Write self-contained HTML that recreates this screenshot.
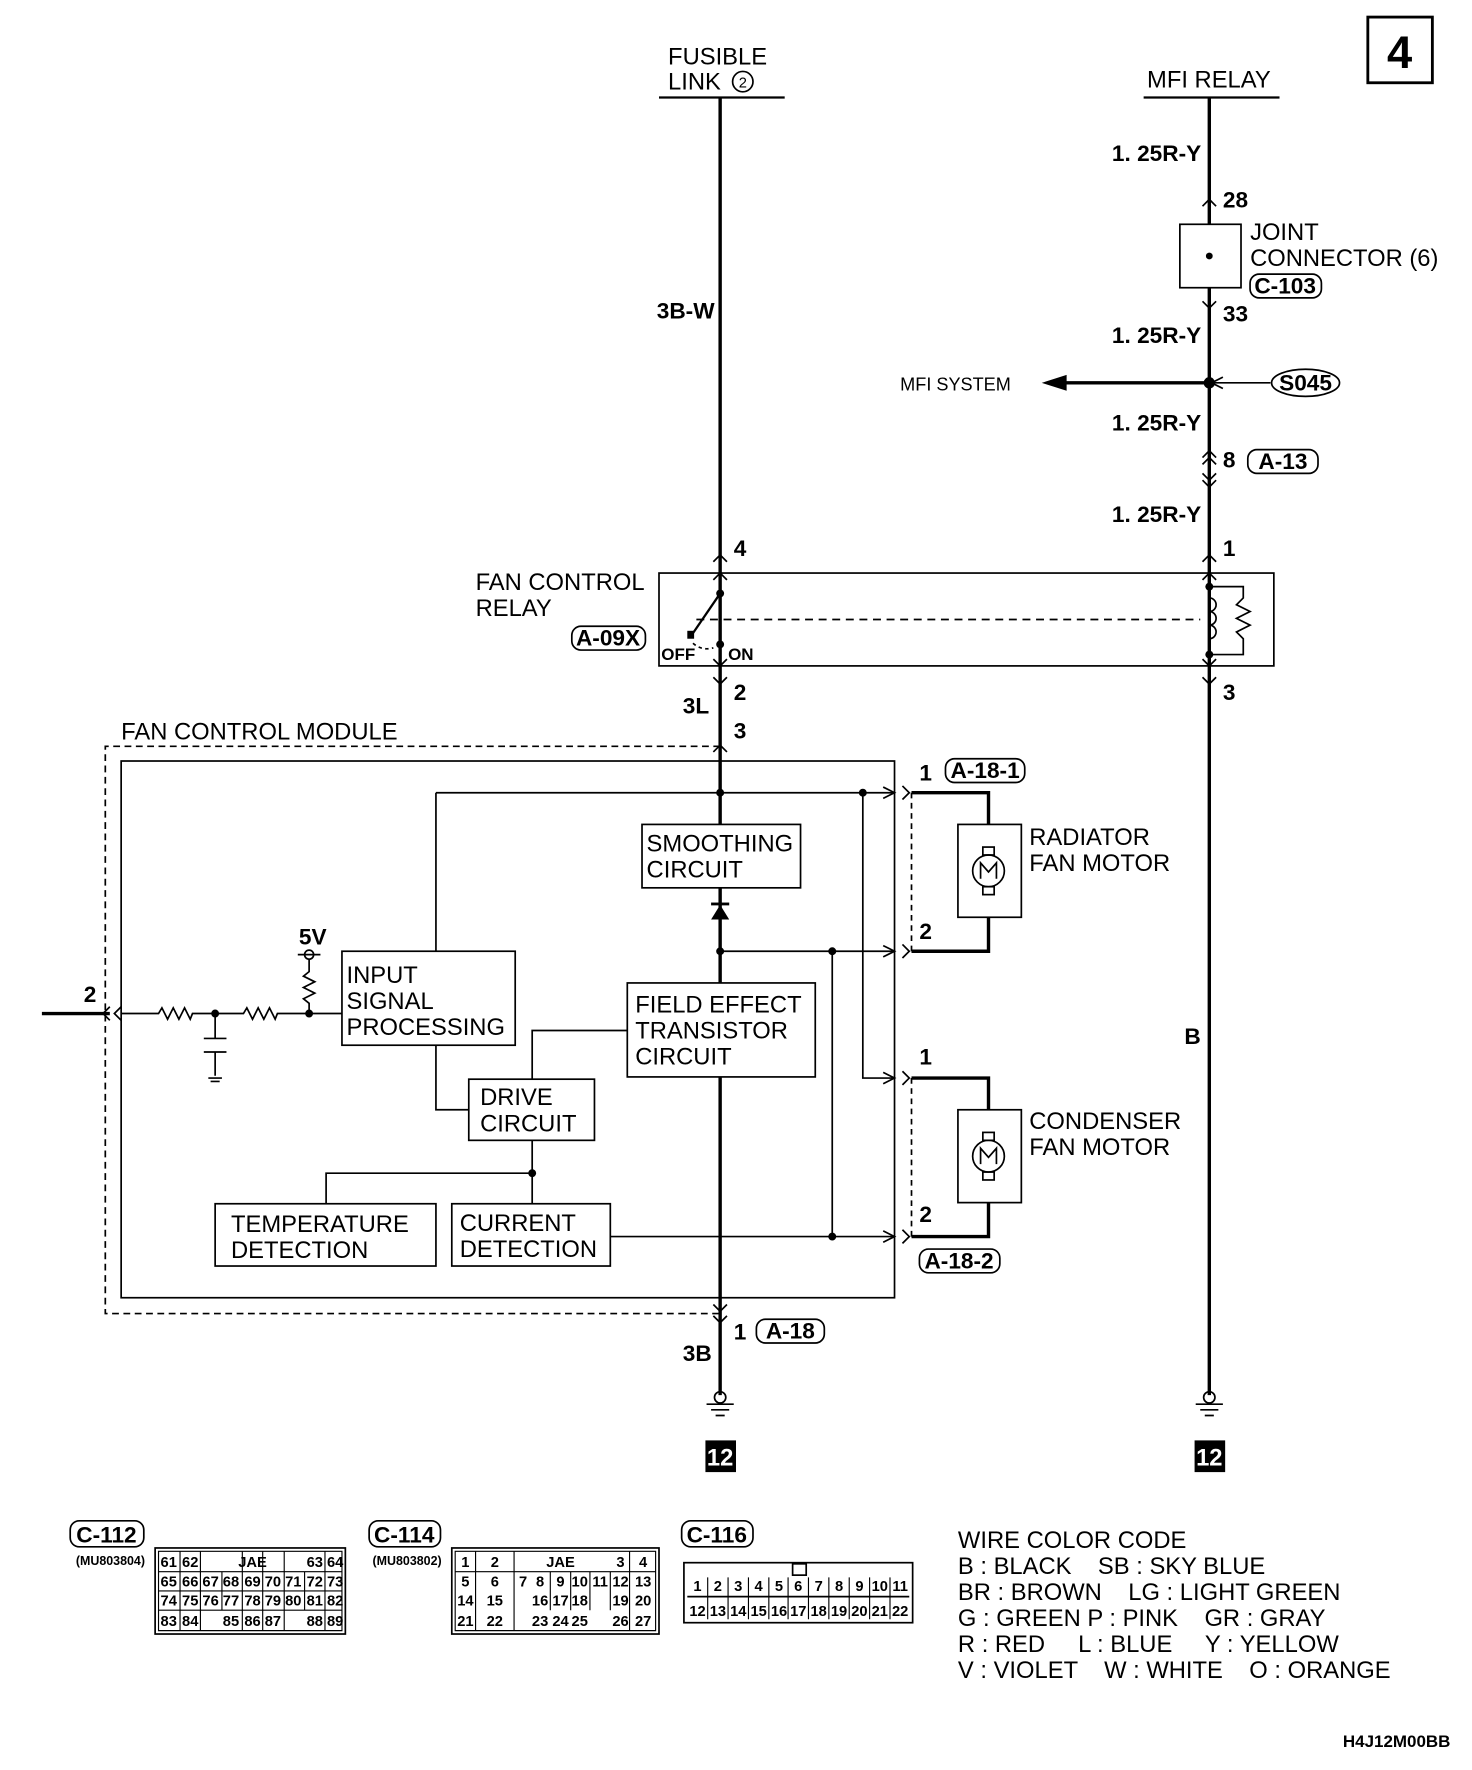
<!DOCTYPE html>
<html><head><meta charset="utf-8"><style>
html,body{margin:0;padding:0;background:#fff;}
svg{display:block;}
text{font-family:"Liberation Sans",sans-serif;fill:#000;white-space:pre;}
.n{font-weight:bold;font-size:20px;}
.t{font-size:21px;}
.s{font-size:11px;font-weight:bold;}
.g text{font-size:13px;font-weight:bold;text-anchor:middle;}
</style></head><body>
<svg width="1472" height="1770" viewBox="0 0 1300 1563" xmlns="http://www.w3.org/2000/svg">
<g fill="none" stroke="#000" stroke-width="1.5">
<rect x="1208" y="15" width="57" height="58" stroke-width="2.5"/>
<line x1="582" y1="86" x2="693" y2="86" stroke-width="2"/>
<line x1="1010" y1="86" x2="1130" y2="86" stroke-width="2"/>
<line x1="636" y1="86" x2="636" y2="1232" stroke-width="3"/>
<line x1="1068" y1="86" x2="1068" y2="1232" stroke-width="3"/>
<circle cx="656" cy="72" r="9"/>
<rect x="1042" y="198" width="54" height="56" fill="#fff"/>
<rect x="1104" y="242" width="63" height="21" rx="8"/>
<path d="M1062,182 L1068,176 L1074,182 M1062,266 L1068,272 L1074,266"/>
<path d="M1062,404 L1068,398 L1074,404 M1062,410 L1068,404 L1074,410 M1062,418 L1068,424 L1074,418 M1062,424 L1068,430 L1074,424"/>
<rect x="1102" y="397" width="62" height="21" rx="8"/>
<line x1="935" y1="338" x2="1068" y2="338" stroke-width="3"/>
<ellipse cx="1153" cy="338" rx="30" ry="12"/>
<line x1="1068" y1="338" x2="1122" y2="338"/>
<path d="M1080,333 L1070,338 L1080,343"/>
<rect x="582" y="506" width="543" height="82"/>
<path d="M630,496 L636,490 L642,496 M1062,496 L1068,490 L1074,496"/>
<path d="M630,512 L636,506 L642,512 M1062,512 L1068,506 L1074,512"/>
<path d="M630,582 L636,588 L642,582 M1062,582 L1068,588 L1074,582"/>
<path d="M630,598 L636,604 L642,598 M1062,598 L1068,604 L1074,598"/>
<rect x="505" y="553" width="65" height="21" rx="8"/>
<line x1="636" y1="524" x2="610" y2="562" stroke-width="2"/>
<line x1="615" y1="547" x2="1060" y2="547" stroke-dasharray="7,5"/>
<path d="M612,568 Q620,575 630,572" stroke-dasharray="3,3"/>
<path d="M1068,518 L1098,518 L1098,528 L1092,534 L1104,540 L1092,546 L1104,552 L1092,558 L1098,564 L1098,578 L1068,578"/>
<path d="M1068,528 a6,6 0 0 1 0,12 a6,6 0 0 1 0,12 a6,6 0 0 1 0,12" stroke-width="1.5"/>
<path d="M636,659 L93,659 L93,1160 L636,1160" stroke-dasharray="6,4"/>
<rect x="107" y="672" width="683" height="474"/>
<path d="M630,664 L636,658 L642,664 M630,1152 L636,1158 L642,1152"/>
<path d="M630,1162 L636,1168 L642,1162"/>
<line x1="385" y1="700" x2="790" y2="700"/>
<line x1="385" y1="700" x2="385" y2="840"/>
<rect x="567" y="728" width="140" height="56" fill="#fff"/>
<line x1="636" y1="840" x2="790" y2="840"/>
<rect x="554" y="868" width="166" height="83" fill="#fff"/>
<rect x="302" y="840" width="153" height="83" fill="#fff"/>
<rect x="414" y="953" width="111" height="54" fill="#fff"/>
<path d="M385,923 L385,980 L414,980"/>
<path d="M554,910 L470,910 L470,953"/>
<path d="M470,1007 L470,1063 M470,1036 L288,1036 L288,1063"/>
<rect x="190" y="1063" width="195" height="55" fill="#fff"/>
<rect x="399" y="1063" width="140" height="55" fill="#fff"/>
<line x1="539" y1="1092" x2="790" y2="1092"/>
<line x1="735" y1="840" x2="735" y2="1092"/>
<path d="M762,700 L762,952 L790,952"/>
<path d="M780,695 L790,700 L780,705 M780,835 L790,840 L780,845 M780,947 L790,952 L780,957 M780,1087 L790,1092 L780,1097"/>
<path d="M797,694 L803,700 L797,706 M797,834 L803,840 L797,846 M797,946 L803,952 L797,958 M797,1086 L803,1092 L797,1098"/>
<line x1="805" y1="700" x2="805" y2="840" stroke-dasharray="5,4"/>
<line x1="805" y1="952" x2="805" y2="1092" stroke-dasharray="5,4"/>
<path d="M805,700 L873,700 L873,728 M873,810 L873,840 L805,840" stroke-width="3"/>
<path d="M805,952 L873,952 L873,980 M873,1062 L873,1092 L805,1092" stroke-width="3"/>
<rect x="846" y="728" width="56" height="82"/>
<rect x="846" y="980" width="56" height="82"/>
<circle cx="873" cy="769" r="14"/>
<circle cx="873" cy="1021" r="14"/>
<rect x="868" y="748" width="10" height="7"/><rect x="868" y="783" width="10" height="7"/>
<rect x="868" y="1000" width="10" height="7"/><rect x="868" y="1035" width="10" height="7"/>
<path d="M866,776 L866,762 L873,770 L880,762 L880,776"/>
<path d="M866,1028 L866,1014 L873,1022 L880,1014 L880,1028"/>
<rect x="835" y="670" width="70" height="21" rx="8"/>
<rect x="812" y="1103" width="71" height="21" rx="8"/>
<rect x="668" y="1165" width="60" height="21" rx="8"/>
<line x1="37" y1="895" x2="97" y2="895" stroke-width="3"/>
<path d="M107,889 L101,895 L107,901 M97,889 L91,895 L97,901"/>
<path d="M107,895 L140,895 L143,890 L148,900 L153,890 L158,900 L163,890 L168,900 L170,895 L215,895 L218,890 L223,900 L228,890 L233,900 L238,890 L243,900 L245,895 L302,895"/>
<path d="M190,895 L190,917 M180,917 L200,917 M180,929 L200,929 M190,929 L190,950 M184,952 L196,952 M186,955 L194,955"/>
<circle cx="273" cy="843" r="4"/>
<path d="M263,843 L283,843 M273,847 L273,858 L268,862 L278,867 L268,872 L278,877 L268,882 L273,886 L273,895"/>
<path d="M624,1240 L648,1240 M628,1245 L644,1245 M632,1250 L640,1250"/>
<path d="M1056,1240 L1080,1240 M1060,1245 L1076,1245 M1064,1250 L1072,1250"/>
<circle cx="636" cy="1234" r="5"/><circle cx="1068" cy="1234" r="5"/>
</g>
<g fill="#000">
<circle cx="1068" cy="226" r="3"/>
<circle cx="1068" cy="338" r="5"/>
<path d="M920,338 L942,331 L942,345 Z"/>
<circle cx="636" cy="524" r="3.5"/>
<circle cx="636" cy="569" r="3.5"/>
<rect x="607" y="557" width="6" height="7"/>
<circle cx="1068" cy="518" r="3.5"/><circle cx="1068" cy="578" r="3.5"/>
<circle cx="636" cy="700" r="3.5"/><circle cx="762" cy="700" r="3.5"/>
<circle cx="636" cy="840" r="3.5"/><circle cx="735" cy="840" r="3.5"/>
<circle cx="470" cy="1036" r="3.5"/><circle cx="735" cy="1092" r="3.5"/>
<circle cx="190" cy="895" r="3.5"/><circle cx="273" cy="895" r="3.5"/>
<path d="M628,812 L644,812 L636,799 Z"/><rect x="628" y="797" width="16" height="2.5"/>
<rect x="623" y="1272" width="27" height="28"/>
<rect x="1055" y="1272" width="27" height="28"/>
</g>
<text x="1236" y="60" font-size="40" font-weight="bold" text-anchor="middle">4</text>
<text x="590" y="57" class="t">FUSIBLE</text>
<text x="590" y="79" class="t">LINK</text>
<text x="656" y="77" font-size="13" text-anchor="middle">2</text>
<text x="1013" y="77" class="t">MFI RELAY</text>
<text x="982" y="142" class="n">1. 25R-Y</text>
<text x="1080" y="183" class="n">28</text>
<text x="1104" y="212" class="t">JOINT</text>
<text x="1104" y="235" class="t">CONNECTOR (6)</text>
<text x="1135" y="259" class="n" text-anchor="middle">C-103</text>
<text x="1080" y="284" class="n">33</text>
<text x="982" y="303" class="n">1. 25R-Y</text>
<text x="795" y="345" font-size="16">MFI SYSTEM</text>
<text x="1153" y="345" class="n" font-size="18" text-anchor="middle">S045</text>
<text x="982" y="380" class="n">1. 25R-Y</text>
<text x="1080" y="413" class="n">8</text>
<text x="1133" y="414" class="n" text-anchor="middle">A-13</text>
<text x="982" y="461" class="n">1. 25R-Y</text>
<text x="580" y="281" class="n">3B-W</text>
<text x="648" y="491" class="n">4</text>
<text x="1080" y="491" class="n">1</text>
<text x="420" y="521" class="t">FAN CONTROL</text>
<text x="420" y="544" class="t">RELAY</text>
<text x="537" y="570" class="n" text-anchor="middle">A-09X</text>
<text x="584" y="583" font-weight="bold" font-size="15">OFF</text>
<text x="643" y="583" font-weight="bold" font-size="15">ON</text>
<text x="648" y="618" class="n">2</text>
<text x="603" y="630" class="n">3L</text>
<text x="648" y="652" class="n">3</text>
<text x="1080" y="618" class="n">3</text>
<text x="107" y="653" class="t">FAN CONTROL MODULE</text>
<text x="571" y="752" class="t">SMOOTHING</text>
<text x="571" y="775" class="t">CIRCUIT</text>
<text x="306" y="868" class="t">INPUT</text>
<text x="306" y="891" class="t">SIGNAL</text>
<text x="306" y="914" class="t">PROCESSING</text>
<text x="561" y="894" class="t">FIELD EFFECT</text>
<text x="561" y="917" class="t">TRANSISTOR</text>
<text x="561" y="940" class="t">CIRCUIT</text>
<text x="424" y="976" class="t">DRIVE</text>
<text x="424" y="999" class="t">CIRCUIT</text>
<text x="204" y="1088" class="t">TEMPERATURE</text>
<text x="204" y="1111" class="t">DETECTION</text>
<text x="406" y="1087" class="t">CURRENT</text>
<text x="406" y="1110" class="t">DETECTION</text>
<text x="264" y="834" class="n" font-size="16">5V</text>
<text x="74" y="885" class="n">2</text>
<text x="812" y="689" class="n">1</text>
<text x="870" y="687" class="n" text-anchor="middle">A-18-1</text>
<text x="812" y="829" class="n">2</text>
<text x="812" y="940" class="n">1</text>
<text x="812" y="1079" class="n">2</text>
<text x="847" y="1120" class="n" text-anchor="middle">A-18-2</text>
<text x="909" y="746" class="t">RADIATOR</text>
<text x="909" y="769" class="t">FAN MOTOR</text>
<text x="909" y="997" class="t">CONDENSER</text>
<text x="909" y="1020" class="t">FAN MOTOR</text>
<text x="1046" y="922" class="n">B</text>
<text x="648" y="1183" class="n">1</text>
<text x="698" y="1182" class="n" text-anchor="middle">A-18</text>
<text x="603" y="1202" class="n">3B</text>
<text x="636" y="1294" font-size="21" font-weight="bold" text-anchor="middle" style="fill:#fff">12</text>
<text x="1068" y="1294" font-size="21" font-weight="bold" text-anchor="middle" style="fill:#fff">12</text>
<g fill="none" stroke="#000" stroke-width="1.5">
<rect x="62" y="1343" width="65" height="23" rx="8"/>
<rect x="326" y="1343" width="63" height="23" rx="8"/>
<rect x="602" y="1343" width="63" height="23" rx="8"/>
<rect x="137" y="1367" width="168" height="76"/>
<rect x="399" y="1367" width="183" height="76"/>
<rect x="604" y="1380" width="202" height="53"/>
<line x1="607" y1="1410" x2="803" y2="1410"/>
<rect x="700" y="1381" width="12" height="10"/>
<g stroke-width="1">
<path d="M140,1370 H302 V1440 H140 Z M140,1388 H302 M140,1405 H302 M140,1422 H302"/>
<path d="M159,1370 V1440 M177,1370 V1440 M196,1388 V1422 M214,1370 V1440 M232,1370 V1440 M251,1370 V1440 M269,1388 V1422 M287,1370 V1440"/>
<path d="M402,1370 H579 V1440 H402 Z M402,1388 H579"/>
<path d="M420,1370 V1440 M454,1370 V1440 M486,1388 V1422 M504,1388 V1422 M521,1388 V1422 M539,1388 V1422 M556,1370 V1440"/>
<path d="M625,1393 V1430 M643,1393 V1430 M661,1393 V1430 M679,1393 V1430 M696,1393 V1430 M714,1393 V1430 M732,1393 V1430 M750,1393 V1430 M768,1393 V1430 M786,1393 V1430"/>
</g>
</g>
<text x="94" y="1362" class="n" text-anchor="middle">C-112</text>
<text x="357" y="1362" class="n" text-anchor="middle">C-114</text>
<text x="633" y="1362" class="n" text-anchor="middle">C-116</text>
<text x="67" y="1382" class="s">(MU803804)</text>
<text x="329" y="1382" class="s">(MU803802)</text>
<g class="g">
<text x="149" y="1384">61</text><text x="168" y="1384">62</text><text x="223" y="1384">JAE</text><text x="278" y="1384">63</text><text x="296" y="1384">64</text>
<text x="149" y="1401">65</text><text x="168" y="1401">66</text><text x="186" y="1401">67</text><text x="204" y="1401">68</text><text x="223" y="1401">69</text><text x="241" y="1401">70</text><text x="259" y="1401">71</text><text x="278" y="1401">72</text><text x="296" y="1401">73</text>
<text x="149" y="1418">74</text><text x="168" y="1418">75</text><text x="186" y="1418">76</text><text x="204" y="1418">77</text><text x="223" y="1418">78</text><text x="241" y="1418">79</text><text x="259" y="1418">80</text><text x="278" y="1418">81</text><text x="296" y="1418">82</text>
<text x="149" y="1436">83</text><text x="168" y="1436">84</text><text x="204" y="1436">85</text><text x="223" y="1436">86</text><text x="241" y="1436">87</text><text x="278" y="1436">88</text><text x="296" y="1436">89</text>
<text x="411" y="1384">1</text><text x="437" y="1384">2</text><text x="495" y="1384">JAE</text><text x="548" y="1384">3</text><text x="568" y="1384">4</text>
<text x="411" y="1401">5</text><text x="437" y="1401">6</text><text x="462" y="1401">7</text><text x="477" y="1401">8</text><text x="495" y="1401">9</text><text x="512" y="1401">10</text><text x="530" y="1401">11</text><text x="548" y="1401">12</text><text x="568" y="1401">13</text>
<text x="411" y="1418">14</text><text x="437" y="1418">15</text><text x="477" y="1418">16</text><text x="495" y="1418">17</text><text x="512" y="1418">18</text><text x="548" y="1418">19</text><text x="568" y="1418">20</text>
<text x="411" y="1436">21</text><text x="437" y="1436">22</text><text x="477" y="1436">23</text><text x="495" y="1436">24</text><text x="512" y="1436">25</text><text x="548" y="1436">26</text><text x="568" y="1436">27</text>
<text x="616" y="1405">1</text><text x="634" y="1405">2</text><text x="652" y="1405">3</text><text x="670" y="1405">4</text><text x="688" y="1405">5</text><text x="705" y="1405">6</text><text x="723" y="1405">7</text><text x="741" y="1405">8</text><text x="759" y="1405">9</text><text x="777" y="1405">10</text><text x="795" y="1405">11</text>
<text x="616" y="1427">12</text><text x="634" y="1427">13</text><text x="652" y="1427">14</text><text x="670" y="1427">15</text><text x="688" y="1427">16</text><text x="705" y="1427">17</text><text x="723" y="1427">18</text><text x="741" y="1427">19</text><text x="759" y="1427">20</text><text x="777" y="1427">21</text><text x="795" y="1427">22</text>
</g>
<g class="t">
<text x="846" y="1367">WIRE COLOR CODE</text>
<text x="846" y="1390">B : BLACK    SB : SKY BLUE</text>
<text x="846" y="1413">BR : BROWN    LG : LIGHT GREEN</text>
<text x="846" y="1436">G : GREEN P : PINK    GR : GRAY</text>
<text x="846" y="1459">R : RED     L : BLUE     Y : YELLOW</text>
<text x="846" y="1482">V : VIOLET    W : WHITE    O : ORANGE</text>
</g>
<text x="1186" y="1543" font-weight="bold" font-size="15">H4J12M00BB</text>
</svg>
</body></html>
